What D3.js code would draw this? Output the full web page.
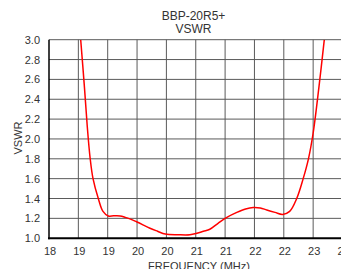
<!DOCTYPE html>
<html>
<head>
<meta charset="utf-8">
<script src="https://cdn.jsdelivr.net/npm/d3@7"></script>
<style>
  body { margin: 0; background: #fff; }
  svg { display: block; }
  text { font-family: "Liberation Sans", Arial, sans-serif; fill: #333; }
</style>
</head>
<body>
<svg id="chart" width="341" height="269"></svg>
<script>
// chart values
var freq = [18.54, 18.60, 18.65, 18.70, 18.75, 18.84, 18.92, 19.01, 19.10, 19.21, 19.30, 19.40,
  19.49, 19.60, 19.72, 19.85, 19.98, 20.20, 20.40, 20.52, 20.63, 20.74, 20.88, 21.03, 21.20,
  21.35, 21.48, 21.60, 21.71, 21.85, 21.98, 22.10, 22.22, 22.33, 22.42, 22.50, 22.60, 22.69];
var vswr = [3.00, 2.55, 2.14, 1.81, 1.60, 1.40, 1.27, 1.224, 1.225, 1.224, 1.21, 1.19,
  1.166, 1.135, 1.10, 1.07, 1.042, 1.035, 1.035, 1.05, 1.07, 1.09, 1.15, 1.21, 1.26,
  1.295, 1.31, 1.305, 1.284, 1.26, 1.24, 1.27, 1.40, 1.60, 1.80, 2.06, 2.53, 3.00];
var xTicks = [18, 18.5, 19, 19.5, 20, 20.5, 21, 21.5, 22, 22.5, 23, 23.5];
var yTicks = [1.0, 1.2, 1.4, 1.6, 1.8, 2.0, 2.2, 2.4, 2.6, 2.8, 3.0];
var titleLines = ["BBP-20R5+", "VSWR"];

var svg = d3.select("#chart");
var margin = {left: 49, top: 39.7},
  plotH = 198.5,
  plotW = 5.5 * 58.7;

var x = d3.scaleLinear().domain([18, 23.5]).range([margin.left, margin.left + plotW]);
var y = d3.scaleLinear().domain([1, 3]).range([margin.top + plotH, margin.top]);

// grid
var grid = svg.append("g").attr("stroke", "#5a5a5a").attr("stroke-width", 1);
grid.selectAll("line.v").data(xTicks.slice(1)).enter().append("line")
  .attr("x1", d => x(d)).attr("x2", d => x(d))
  .attr("y1", y(1)).attr("y2", y(3));
grid.selectAll("line.h").data(yTicks.slice(1)).enter().append("line")
  .attr("x1", x(18)).attr("x2", x(23.5))
  .attr("y1", d => y(d)).attr("y2", d => y(d));

// curve, clipped to the plot
svg.append("clipPath").attr("id", "clip").append("rect")
  .attr("x", x(18)).attr("y", y(3)).attr("width", plotW).attr("height", plotH);
var line = d3.line().x(d => x(d[0])).y(d => y(d[1])).curve(d3.curveCatmullRom.alpha(0.5));
svg.append("path")
  .datum(d3.zip(freq, vswr))
  .attr("clip-path", "url(#clip)")
  .attr("fill", "none").attr("stroke", "#ff0000").attr("stroke-width", 1.5)
  .attr("d", line);

// axes lines
svg.append("line").attr("x1", x(18)).attr("x2", x(18)).attr("y1", y(3)).attr("y2", y(1) + 1)
  .attr("stroke", "#000").attr("stroke-width", 1.5);
svg.append("line").attr("x1", x(18) - 1).attr("x2", x(23.5)).attr("y1", y(1)).attr("y2", y(1))
  .attr("stroke", "#000").attr("stroke-width", 2);

// tick labels
svg.append("g").selectAll("text").data(yTicks).enter().append("text")
  .attr("x", 40).attr("y", d => y(d) + 4)
  .attr("text-anchor", "end").attr("font-size", 11)
  .text(d => d.toFixed(1));
svg.append("g").selectAll("text").data(xTicks).enter().append("text")
  .attr("x", d => x(d) + 1).attr("y", 255)
  .attr("text-anchor", "middle").attr("font-size", 11)
  .text(d => Math.round(d));

// titles
svg.append("g").selectAll("text").data(titleLines).enter().append("text")
  .attr("x", 193.5).attr("y", (d, i) => 20 + i * 13.3)
  .attr("text-anchor", "middle").attr("font-size", 12)
  .text(d => d);
svg.append("text").attr("x", 199).attr("y", 270)
  .attr("text-anchor", "middle").attr("font-size", 11)
  .text("FREQUENCY (MHz)");
svg.append("text").attr("transform", "translate(22,138) rotate(-90)")
  .attr("text-anchor", "middle").attr("font-size", 11)
  .text("VSWR");
</script>
</body>
</html>
